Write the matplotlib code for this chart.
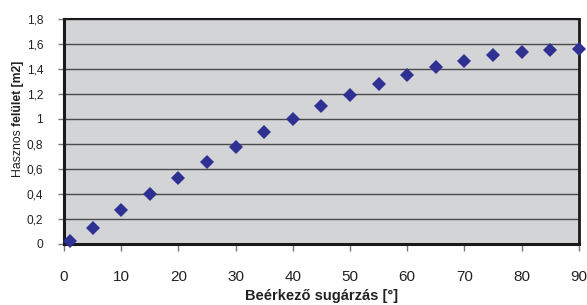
import matplotlib
matplotlib.use('Agg')
import matplotlib.pyplot as plt
from matplotlib.ticker import FuncFormatter

# beérkező sugárzás szöge [°] és hasznos felület [m2]
angles = [1, 5, 10, 15, 20, 25, 30, 35, 40, 45, 50, 55, 60, 65, 70, 75, 80, 85, 90]
area = [0.024, 0.13, 0.27, 0.40, 0.53, 0.656, 0.778, 0.894, 1.0, 1.10, 1.195, 1.277,
        1.349, 1.413, 1.467, 1.509, 1.536, 1.555, 1.56]

x_ticks = [0, 10, 20, 30, 40, 50, 60, 70, 80, 90]
y_ticks = [0, 0.2, 0.4, 0.6, 0.8, 1.0, 1.2, 1.4, 1.6, 1.8]

plt.rcParams['font.family'] = ['Liberation Sans', 'DejaVu Sans']

fig = plt.figure(figsize=(5.87, 3.05), dpi=100)
ax = fig.add_axes([0.109, 0.2, 0.877, 0.738])
ax.set_facecolor('#d3d4d6')

ax.plot(angles, area, 'D', color='#2e3192', markersize=7.6, markeredgewidth=0,
        clip_on=False, zorder=5)

ax.set_xlim(0, 90)
ax.set_ylim(0, 1.8)
ax.set_xticks(x_ticks)
ax.set_yticks(y_ticks)
ax.yaxis.set_major_formatter(FuncFormatter(lambda v, p: ('%g' % round(v, 1)).replace('.', ',')))

ax.grid(axis='y', color='#4a4a4a', linewidth=1.0)
ax.set_axisbelow(True)
for s in ax.spines.values():
    s.set_color('#1a1a1a')
    s.set_linewidth(1.5)
ax.spines['left'].set_linewidth(2.2)
ax.spines['bottom'].set_linewidth(2.2)
ax.spines['right'].set_linewidth(2.0)

ax.tick_params(axis='x', length=5, width=1, color='#777777', pad=14,
               labelsize=11, labelcolor='#222222')
ax.tick_params(axis='y', length=4, width=1, color='#777777', pad=11,
               labelsize=8.6, labelcolor='#222222')

ax.set_xlabel('Beérkező sugárzás [°]', fontsize=10.5, fontweight='bold',
              color='#222222', labelpad=3)

t1 = fig.text(0.031, 0.42, 'Hasznos ', rotation=90, fontsize=8.8,
              color='#222222', ha='center', va='bottom')
ax.annotate('felület [m2]', xy=(0.5, 1), xycoords=t1, rotation=90,
            fontsize=8.8, fontweight='bold', color='#222222',
            ha='center', va='bottom')

fig.savefig('out.png', dpi=100)
